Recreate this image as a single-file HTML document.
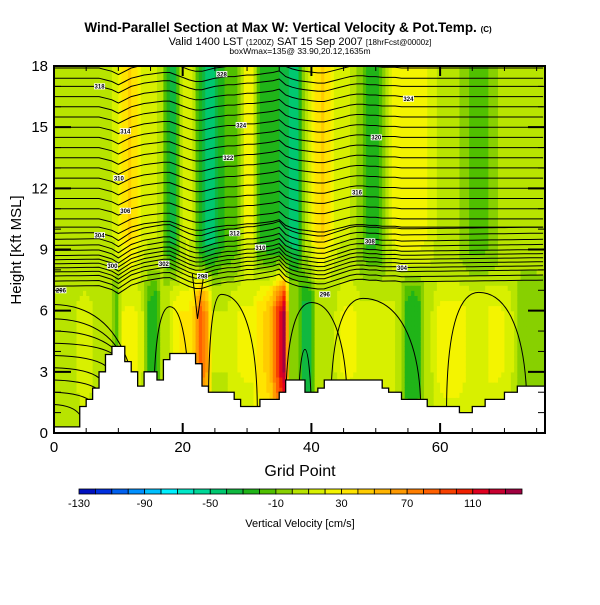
<!DOCTYPE html>
<html><head><meta charset="utf-8"><style>
body{margin:0;background:#fff;width:600px;height:600px;overflow:hidden}
svg text{font-family:"Liberation Sans",sans-serif}
</style></head><body>
<svg id="c" width="600" height="600" viewBox="0 0 600 600">
<defs><clipPath id="pc"><rect x="54" y="66" width="491" height="367"/></clipPath></defs>
<g id="field" clip-path="url(#pc)"></g>
<g id="contours" clip-path="url(#pc)"></g>
<g id="terrain"></g>
<g id="labels"></g>
<g id="axes"></g>
<text x="288" y="32" text-anchor="middle" font-size="13.5" font-weight="bold">Wind-Parallel Section at Max W: Vertical Velocity &amp; Pot.Temp. <tspan font-size="8">(C)</tspan></text>
<text x="300" y="45" text-anchor="middle" font-size="11">Valid 1400 LST <tspan font-size="8">(1200Z)</tspan> SAT 15 Sep 2007 <tspan font-size="8">[18hrFcst@0000z]</tspan></text>
<text x="300" y="54" text-anchor="middle" font-size="8.5">boxWmax=135@ 33.90,20.12,1635m</text>
<text x="300" y="476" text-anchor="middle" font-size="16">Grid Point</text>
<text transform="translate(21,250) rotate(-90)" text-anchor="middle" font-size="15">Height [Kft MSL]</text>
<g id="cbar"></g>
<text x="300" y="527" text-anchor="middle" font-size="11">Vertical Velocity [cm/s]</text>
</svg>
<script>
// ---- data ----
const gridPoints = Array.from({length:76},(_,i)=>i);
const terrain = [0.3,0.3,0.3,0.3,1.3,1.65,2.2,3.0,3.85,4.25,4.25,3.5,3.0,2.3,3.0,3.0,2.6,3.6,3.9,3.9,3.9,3.9,3.4,2.3,2.0,2.0,2.0,2.0,1.65,1.3,1.3,1.3,1.65,1.65,1.65,2.0,2.6,2.6,2.6,2.0,2.0,2.2,2.6,2.6,2.6,2.6,2.6,2.6,2.6,2.6,2.6,2.2,2.0,2.0,1.65,1.65,1.65,1.65,1.3,1.3,1.3,1.3,1.3,1.0,1.0,1.3,1.3,1.65,1.65,1.65,2.0,2.0,2.3,2.3,2.3,2.3];
const wUpper = [5,5,5,5,5,0,0,0,5,15,30,40,30,15,10,10,0,-30,-35,5,15,5,-30,-45,-45,-30,-20,-20,-10,20,20,-20,-25,-30,-30,-35,-45,-50,-10,10,35,40,30,15,10,10,5,-10,-25,-25,-20,0,20,25,25,25,25,20,15,5,5,5,0,-5,-15,-15,-15,-10,-5,5,5,5,5,5,5,5];
const wLower = [5,5,5,12,15,12,5,5,0,-15,20,22,20,10,-25,-30,0,5,25,30,30,45,85,60,10,10,10,15,20,22,22,35,40,55,95,130,-5,-5,-35,-35,5,8,8,10,20,22,20,12,12,12,12,12,12,5,-25,-30,-25,5,10,22,25,25,25,22,15,15,15,22,22,20,15,5,-10,-10,-10,-5];
const thetaLevels = [18.3,17.9,17.4,17.0,16.5,16.0,15.5,15.0,14.5,14.0,13.5,13.0,12.5,12.0,11.5,11.0,10.5,10.1,9.8,9.5,9.2,8.95,8.7,8.5,8.3,8.1,7.9,7.7,7.45,7.2];
const thetaDisp = [0,0,0,0,0,0,0,0,-0.1,-0.2,-0.4,-0.2,0,0.1,0.2,0.25,0.3,0.35,0.35,0.2,0.05,-0.1,-0.2,-0.2,-0.1,0,0.05,0.1,0.1,0.15,0.2,0.2,0.25,0.3,0.35,0.45,0.1,-0.05,-0.15,-0.2,-0.25,-0.3,-0.3,-0.2,-0.1,0,0.1,0.15,0.15,0.1,0.1,0.05,0.05,0.05,0,0,0,0,0,0,0,0,0,0,0,0,0,0,0,0,0,0,0,0,0,0];
const lowLines = [6.3,5.6,5.0,4.4,3.8,3.2,2.6,2.0,1.4];
const arches = [[24,26,31.6,6.8],[36,40,45.6,6.4],[43,48,57,6.6],[61,66,73.5,6.9],[15.5,18,21,6.2],[38,39,40,4.1]];
const cbarValues = [-130,-120,-110,-100,-90,-80,-70,-60,-50,-40,-30,-20,-10,0,10,20,30,40,50,60,70,80,90,100,110,120,130];
const cbarLabels = [-130,-90,-50,-10,30,70,110];
const xTicks = [0,20,40,60];
const yTicks = [0,3,6,9,12,15,18];
const palette = ["#0010c0","#0030e0","#0060f0","#0090ff","#00c0ff","#00f0ff","#00e8c8","#00d898","#00c870","#10b840","#20b418","#50c000","#88d000","#b8e400","#d8f000","#f4f400","#ffe400","#ffcc00","#ffb400","#ff9a00","#ff7e00","#ff6000","#f84000","#f02000","#e00020","#c80030","#a00040"];
// ---- axes funcs ----
const X0=54,X1=545,Y0=433,Y1=66,XMAX=76.3,YMAX=18;
const sx=v=>X0+v*(X1-X0)/XMAX, sy=v=>Y0-v*(Y0-Y1)/YMAX;
const NS="http://www.w3.org/2000/svg";
function mk(t,a,p){const e=document.createElementNS(NS,t);for(const k in a)e.setAttribute(k,a[k]);p.appendChild(e);return e;}
function colorFor(w){let i=Math.floor((w+130)/10);i=Math.max(0,Math.min(26,i));return palette[i];}
function interp(arr,x){const i=Math.floor(x),f=x-i;const a=arr[Math.min(75,i)],b=arr[Math.min(75,i+1)];return a+(b-a)*f;}
function centered(arr,x){return interp(arr,Math.max(0,x-0.5));}
const field=document.getElementById('field');
for(let cx=0;cx<154;cx++){
  const x=cx/2;
  for(let ry=0;ry<72;ry++){
    const h=ry*0.25+0.125;
    let lo=centered(wLower,x);
    if(h<3)lo*=0.55+0.45*h/3; if(h>6)lo*=Math.max(0,1-0.35*(h-6));
    const up=centered(wUpper,x);
    let w;
    if(h>9.5)w=up;
    else if(h<7)w=lo;
    else{const t=(h-7)/2.5;w=lo*(1-t)+up*t;}
    const r=mk('rect',{x:sx(x).toFixed(2),y:sy(h+0.125).toFixed(2),width:(sx(0.5)-sx(0)+0.6).toFixed(2),height:(sy(0)-sy(0.25)+0.6).toFixed(2),fill:colorFor(w)},field);
    
    
  }
}
// contours
const cg=document.getElementById('contours');
thetaLevels.forEach(lv=>{
  let p='';
  const amp = lv<10 ? 1.0 : 0.8;
  for(let i=0;i<=76;i++){
    const dd=thetaDisp[Math.min(75,i)]*amp + (lv<10 ? (i/76)*0.3 : 0);
    p+=(i?' L':'M')+sx(Math.min(i,XMAX)).toFixed(1)+','+sy(lv+dd).toFixed(1);
  }
  const c=mk('path',{d:p,fill:'none',stroke:'#000','stroke-width':1},cg);
  
  
});
// low-level lines from left edge into terrain
lowLines.forEach(lv=>{
  let end=0;while(end<12&&terrain[end]<lv-0.3)end++;
  if(terrain[end]<lv-0.3)end=Math.min(end,9+Math.round(lv-4.4)*2);
  const p=`M${sx(0)},${sy(lv)} Q${sx(end*0.75)},${sy(lv-0.05)} ${sx(end)},${sy(Math.min(lv-0.5,terrain[end]))}`;
  const c=mk('path',{d:p,fill:'none',stroke:'#000','stroke-width':1},cg);
  
  
});
arches.forEach(a=>{
  const [x0,xm,x1,top]=a;
  const p=`M${sx(x0)},${sy(1)} C${sx(x0)},${sy(top-1.2)} ${sx(xm-(xm-x0)*0.5)},${sy(top)} ${sx(xm)},${sy(top)} C${sx(xm+(x1-xm)*0.6)},${sy(top)} ${sx(x1)},${sy(top-2)} ${sx(x1)},${sy(1)}`;
  const c=mk('path',{d:p,fill:'none',stroke:'#000','stroke-width':1},cg);
  
  
});
// V-notch lines above peaks
[[21.5,7.8,22.3,5.6,23.2,7.6]].forEach(v=>{
  const c=mk('path',{d:`M${sx(v[0])},${sy(v[1])} L${sx(v[2])},${sy(v[3])} L${sx(v[4])},${sy(v[5])}`,fill:'none',stroke:'#000','stroke-width':1},cg);
  
  
});
// terrain
const tg=document.getElementById('terrain');
let d=`M${sx(0)},${sy(0)}`;
terrain.forEach((h,i)=>{d+=` L${sx(i)},${sy(h)} L${sx(i+1)},${sy(h)}`;});
d+=` L${X1},${sy(terrain[75])} L${X1},${Y0} Z`;
const tp=mk('path',{d:d,fill:'#fff',stroke:'#000','stroke-width':1.3},tg);


// contour labels
const lg=document.getElementById('labels');
const lbl=[[7,17,'318'],[26,17.6,'328'],[11,14.8,'314'],[29,15.1,'324'],[10,12.5,'310'],[27,13.5,'322'],[7,9.7,'304'],[28,9.8,'312'],[11,10.9,'306'],[9,8.2,'300'],[17,8.3,'302'],[32,9.1,'310'],[50,14.5,'320'],[47,11.8,'316'],[49,9.4,'308'],[54,8.1,'304'],[55,16.4,'324'],[1,7.0,'296'],[42,6.8,'296'],[23,7.7,'298']];
lbl.forEach(l=>{
  const r=mk('rect',{x:sx(l[0])-5,y:sy(l[1])-3,width:11,height:6,fill:'#fff'},lg);
  
  
  const t=mk('text',{x:sx(l[0])+0.5,y:sy(l[1])+2.3,'font-size':6,'text-anchor':'middle','font-weight':'bold'},lg);
  t.textContent=l[2];
  
  
});
// axes
const ag=document.getElementById('axes');
const fr=mk('rect',{x:X0,y:Y1,width:X1-X0,height:Y0-Y1,fill:'none',stroke:'#000','stroke-width':2},ag);


for(let v=5;v<XMAX;v+=5){
  const maj=v%20===0,len=maj?10:5;
  mk('line',{x1:sx(v),x2:sx(v),y1:Y0,y2:Y0-len,stroke:'#000','stroke-width':maj?2:1},ag);
  mk('line',{x1:sx(v),x2:sx(v),y1:Y1,y2:Y1+len,stroke:'#000','stroke-width':maj?2:1},ag);
}
for(let v=1;v<18;v++){
  const maj=v%3===0,len=maj?17:7;
  mk('line',{x1:X0,x2:X0+len,y1:sy(v),y2:sy(v),stroke:'#000','stroke-width':maj?2:1},ag);
  mk('line',{x1:X1,x2:X1-len,y1:sy(v),y2:sy(v),stroke:'#000','stroke-width':maj?2:1},ag);
}
xTicks.forEach(v=>{const t=mk('text',{x:sx(v),y:452,'font-size':15,'text-anchor':'middle'},ag);t.textContent=v;
  
  });
yTicks.forEach(v=>{const t=mk('text',{x:48,y:sy(v)+5,'font-size':15,'text-anchor':'end'},ag);t.textContent=v;
  
  });
// colorbar
const cb=document.getElementById('cbar');
const CB0=79,CBW=443/27;
cbarValues.forEach((v,i)=>{
  const r=mk('rect',{x:CB0+i*CBW,y:489,width:CBW,height:5,fill:palette[i],stroke:'#000','stroke-width':0.8},cb);
  
  
});
cbarLabels.forEach(v=>{
  const t=mk('text',{x:CB0+(v+130)/10*CBW,y:507,'font-size':11,'text-anchor':'middle'},cb);
  t.textContent=v;
  
  
});
</script>
</body></html>
